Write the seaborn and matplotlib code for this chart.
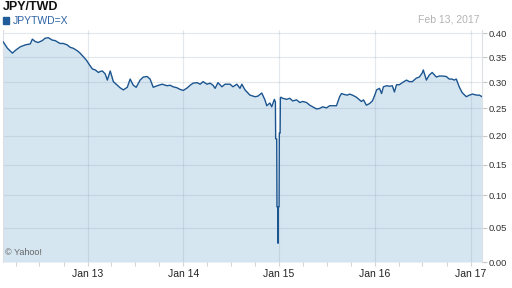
import numpy as np
import pandas as pd
import matplotlib
matplotlib.use("Agg")
import matplotlib.pyplot as plt
import matplotlib.dates as mdates
from matplotlib.patches import Rectangle
import seaborn as sns

# ---- data ----
dates = [
    "2012-02-13", "2012-03-01", "2012-03-20", "2012-04-01", "2012-04-19", "2012-05-08",
    "2012-05-27", "2012-06-04", "2012-06-15", "2012-06-26", "2012-07-12", "2012-07-23",
    "2012-08-04", "2012-08-19", "2012-08-30", "2012-09-11", "2012-09-18", "2012-09-30",
    "2012-10-15", "2012-10-26", "2012-11-07", "2012-11-22", "2012-12-03", "2012-12-15",
    "2012-12-28", "2013-01-08", "2013-01-19", "2013-01-30", "2013-02-11", "2013-02-18",
    "2013-02-26", "2013-03-09", "2013-03-17", "2013-03-28", "2013-04-09", "2013-04-24",
    "2013-05-05", "2013-05-17", "2013-06-01", "2013-06-12", "2013-06-24", "2013-07-05",
    "2013-07-20", "2013-08-01", "2013-08-16", "2013-08-27", "2013-09-08", "2013-09-23",
    "2013-10-12", "2013-10-31", "2013-11-11", "2013-11-23", "2013-12-08", "2013-12-19",
    "2014-01-01", "2014-01-16", "2014-01-27", "2014-02-07", "2014-02-22", "2014-03-06",
    "2014-03-17", "2014-04-01", "2014-04-13", "2014-04-24", "2014-05-02", "2014-05-13",
    "2014-05-28", "2014-06-09", "2014-06-28", "2014-07-09", "2014-07-24", "2014-08-05",
    "2014-08-12", "2014-08-24", "2014-09-12", "2014-10-01", "2014-10-12", "2014-10-27",
    "2014-11-08", "2014-11-15", "2014-11-27", "2014-12-04", "2014-12-14", "2014-12-18",
    "2014-12-19", "2014-12-23", "2014-12-24", "2014-12-27", "2014-12-28", "2014-12-29",
    "2015-01-01", "2015-01-02", "2015-01-05", "2015-01-06", "2015-01-08", "2015-01-15",
    "2015-01-30", "2015-02-11", "2015-02-22", "2015-03-09", "2015-03-21", "2015-04-01",
    "2015-04-16", "2015-04-28", "2015-05-09", "2015-05-24", "2015-06-05", "2015-06-16",
    "2015-07-01", "2015-07-13", "2015-07-24", "2015-08-08", "2015-08-20", "2015-08-27",
    "2015-09-08", "2015-09-19", "2015-09-27", "2015-10-08", "2015-10-23", "2015-11-04",
    "2015-11-11", "2015-11-19", "2015-11-30", "2015-12-12", "2015-12-23", "2016-01-01",
    "2016-01-08", "2016-01-19", "2016-01-27", "2016-02-03", "2016-02-15", "2016-02-26",
    "2016-03-08", "2016-03-16", "2016-03-24", "2016-04-04", "2016-04-15", "2016-05-01",
    "2016-05-12", "2016-05-23", "2016-06-08", "2016-06-19", "2016-06-30", "2016-07-04",
    "2016-07-16", "2016-07-27", "2016-08-07", "2016-08-23", "2016-09-03", "2016-09-14",
    "2016-09-30", "2016-10-11", "2016-10-22", "2016-10-30", "2016-11-07", "2016-11-18",
    "2016-11-29", "2016-12-15", "2016-12-27", "2017-01-08", "2017-01-23", "2017-02-03",
    "2017-02-13",
]
rates = [
    0.382, 0.368, 0.358, 0.364, 0.371, 0.375,
    0.377, 0.387, 0.382, 0.380, 0.384, 0.389,
    0.390, 0.385, 0.384, 0.380, 0.378, 0.378,
    0.375, 0.370, 0.368, 0.363, 0.358, 0.351,
    0.343, 0.334, 0.326, 0.324, 0.319, 0.321,
    0.322, 0.316, 0.304, 0.322, 0.301, 0.294,
    0.289, 0.285, 0.290, 0.306, 0.294, 0.290,
    0.304, 0.310, 0.311, 0.306, 0.290, 0.293,
    0.296, 0.293, 0.294, 0.291, 0.289, 0.286,
    0.284, 0.289, 0.294, 0.298, 0.299, 0.296,
    0.301, 0.296, 0.298, 0.294, 0.288, 0.299,
    0.291, 0.296, 0.296, 0.291, 0.296, 0.288,
    0.296, 0.285, 0.275, 0.272, 0.273, 0.279,
    0.266, 0.255, 0.260, 0.253, 0.267, 0.262,
    0.195, 0.195, 0.082, 0.082, 0.027, 0.082,
    0.082, 0.205, 0.205, 0.270, 0.271, 0.269,
    0.267, 0.269, 0.264, 0.266, 0.261, 0.263,
    0.261, 0.256, 0.253, 0.249, 0.250, 0.253,
    0.251, 0.255, 0.255, 0.255, 0.272, 0.278,
    0.276, 0.275, 0.277, 0.275, 0.271, 0.266,
    0.263, 0.266, 0.256, 0.259, 0.264, 0.275,
    0.285, 0.288, 0.278, 0.291, 0.293, 0.292,
    0.293, 0.281, 0.295, 0.295, 0.299, 0.304,
    0.301, 0.301, 0.308, 0.310, 0.318, 0.324,
    0.304, 0.314, 0.319, 0.310, 0.312, 0.312,
    0.311, 0.306, 0.306, 0.304, 0.306, 0.291,
    0.280, 0.272, 0.275, 0.277, 0.275, 0.275,
    0.272,
]
y_ticks = [0.00, 0.05, 0.10, 0.15, 0.20, 0.25, 0.30, 0.35, 0.40]
title = "JPY/TWD"
series_name = "JPYTWD=X"
date_label = "Feb 13, 2017"
credit = "© Yahoo!"

df = pd.DataFrame({"date": pd.to_datetime(dates), "rate": rates})

# ---- style ----
sns.set_theme(style="white")
plt.rcParams["font.family"] = ["Liberation Sans", "DejaVu Sans"]

LINE = "#1b5590"
FILL = "#d6e6f1"
W, H = 512, 288

fig = plt.figure(figsize=(W / 100, H / 100), dpi=100)
fig.patch.set_facecolor("white")
ax = fig.add_axes([3 / W, (H - 262) / H, (482 - 3) / W, (262 - 30) / H])
ax.set_facecolor("white")

# y scale used by the original chart (slightly compressed toward the top)
ax.set_yscale("function", functions=(lambda v: np.log(np.asarray(v) + 0.8),
                                      lambda u: np.exp(np.asarray(u)) - 0.8))

ax.fill_between(df["date"], df["rate"], 0, color=FILL, linewidth=0, zorder=1)
sns.lineplot(data=df, x="date", y="rate", ax=ax, color=LINE, linewidth=1.0,
             sort=False, estimator=None, zorder=3)

ax.set_xlim(pd.Timestamp("2012-02-13"), pd.Timestamp("2017-02-13"))
ax.set_ylim(0, 0.4064)

ax.set_xlabel("")
ax.set_ylabel("")

# x axis
ax.xaxis.set_major_locator(mdates.YearLocator())
ax.xaxis.set_major_formatter(mdates.DateFormatter("%b %y"))
ax.xaxis.set_minor_locator(mdates.MonthLocator(bymonth=[4, 7, 10]))
ax.tick_params(axis="x", which="both", bottom=True, length=3, width=0.8,
               color="#d4d4d4", labelsize=7.5, labelcolor="#222222", pad=2.0)

# y axis on the right
ax.yaxis.tick_right()
ax.set_yticks(y_ticks)
ax.set_yticklabels([f"{t:.2f}" for t in y_ticks])
ax.yaxis.set_minor_locator(matplotlib.ticker.NullLocator())
ax.tick_params(axis="y", which="both", right=True, left=False, length=3.5, width=0.8,
               color="#c8c8c8", labelsize=6.8, labelcolor="#333333", pad=1.2)

# grid drawn over fill, under line
ax.set_axisbelow("line")
ax.grid(True, which="major", axis="both", color=(127 / 255, 142 / 255, 163 / 255),
        alpha=0.2, linewidth=0.9)

for side in ["top", "bottom"]:
    ax.spines[side].set_visible(False)
for side in ["left", "right"]:
    ax.spines[side].set_visible(True)
    ax.spines[side].set_color("#dcdfe3")
    ax.spines[side].set_linewidth(0.8)

ax.text(2 / 479, 9.3 / 232, credit, transform=ax.transAxes, fontsize=6.5,
        color="#666666", va="center", ha="left")

# header texts
fig.text(3 / W, 1 - 7 / H, title, fontsize=9, fontweight="bold", color="#111111",
         va="center", ha="left")
fig.patches.append(Rectangle((3 / W, 1 - 24 / H), 6 / W, 7 / H,
                             transform=fig.transFigure, color="#1f5c99", zorder=5))
fig.text(13 / W, 1 - 20.5 / H, series_name, fontsize=7.5, color="#2c62a3",
         va="center", ha="left")
fig.text(479 / W, 1 - 20 / H, date_label, fontsize=7.5, color="#b3b3b3",
         va="center", ha="right")

fig.savefig("out.png", dpi=100, facecolor="white")
